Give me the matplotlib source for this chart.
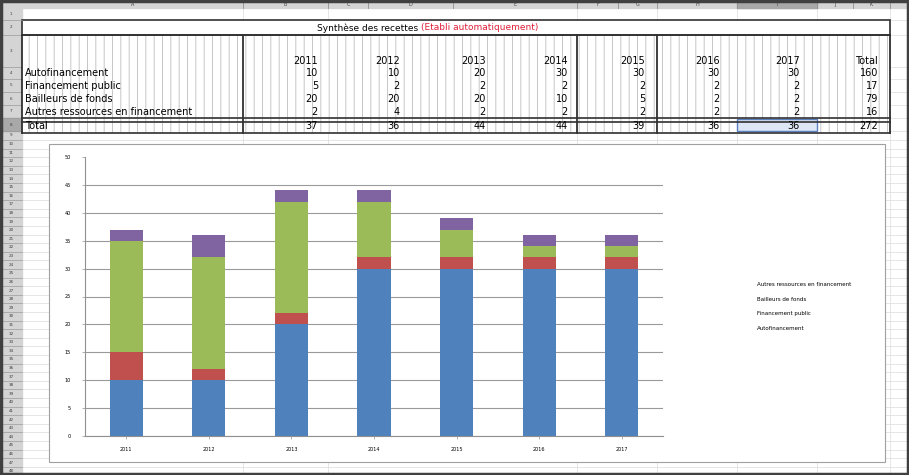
import matplotlib.pyplot as plt
from matplotlib.patches import Rectangle
import numpy as np

plt.rcParams['hatch.linewidth'] = 0.6

# donnees du tableau / graphique
annees = ['2011', '2012', '2013', '2014', '2015', '2016', '2017']
postes = ['Autofinancement', 'Financement public', 'Bailleurs de fonds',
          'Autres ressources en financement']
autofinancement = [10, 10, 20, 30, 30, 30, 30]
financement_public = [5, 2, 2, 2, 2, 2, 2]
bailleurs = [20, 20, 20, 10, 5, 2, 2]
autres = [2, 4, 2, 2, 2, 2, 2]
series = [autofinancement, financement_public, bailleurs, autres]
couleurs = ['#4F81BD', '#C0504D', '#9BBB59', '#8064A2']
y_ticks = [0, 5, 10, 15, 20, 25, 30, 35, 40, 45, 50]

W, H = 909, 475
fig = plt.figure(figsize=(W / 100, H / 100), dpi=100)

# calque en pixels pour la feuille excel
bg = fig.add_axes([0, 0, 1, 1])
bg.set_xlim(0, W)
bg.set_ylim(H, 0)
bg.axis('off')

# en-tetes de colonnes et de lignes
bg.add_patch(Rectangle((0, 0), W, 8, color='#d4d4d4'))
bg.add_patch(Rectangle((737, 0), 80, 8, color='#a8a8a8'))
bg.add_patch(Rectangle((0, 0), 22, H, color='#d4d4d4'))
col_bords = [22, 243, 328, 368, 453, 577, 618, 657, 737, 817, 853, 890]
lettres = 'ABCDEFGHIJK'
for i in range(len(col_bords) - 1):
    bg.plot([col_bords[i + 1]] * 2, [0, 8], color='#909090', lw=0.6)
    bg.text((col_bords[i] + col_bords[i + 1]) / 2, 4.5, lettres[i],
            fontsize=3.5, ha='center', va='center', color='#404040')

lignes = [8, 20, 35, 67, 79, 92, 105, 118, 131, 140]
while lignes[-1] < H:
    lignes.append(lignes[-1] + 8.6)
bg.add_patch(Rectangle((0, 118), 22, 13, color='#a8a8a8'))
for i in range(len(lignes) - 1):
    bg.plot([0, 22], [lignes[i + 1]] * 2, color='#9a9a9a', lw=0.5)
    bg.plot([22, W], [lignes[i + 1]] * 2, color='#dcdcdc', lw=0.5, zorder=0)
    bg.text(11, (lignes[i] + lignes[i + 1]) / 2, str(i + 1), fontsize=3,
            ha='center', va='center', color='#404040')
for x in [243, 328, 577, 657, 737, 817, 890]:
    bg.plot([x, x], [8, H], color='#dcdcdc', lw=0.5, zorder=0)

# zone du tableau avec motif
bg.add_patch(Rectangle((22, 35), 868, 98, facecolor='white',
                       edgecolor='#bdbdbd', hatch='||', lw=0))
bg.add_patch(Rectangle((737, 119), 80, 12, facecolor='#dce6f5',
                       edgecolor='#5b7fc0', lw=1))
# titre
bg.add_patch(Rectangle((22, 20), 868, 15, facecolor='white',
                       edgecolor='#303030', lw=1.2))
bg.text(421, 28, 'Synthèse des recettes ', fontsize=6.5, ha='right',
        va='center', color='black')
bg.text(421, 28, '(Etabli automatiquement)', fontsize=6.5, ha='left',
        va='center', color='#e0203a')

# traits epais du tableau
for x in [22, 243, 577, 657, 890]:
    bg.plot([x, x], [35, 133], color='#303030', lw=1.3)
for y in [35, 118, 121.5, 133]:
    bg.plot([22, 890], [y, y], color='#303030', lw=1.2)

x_vals = [318, 400, 486, 568, 645, 720, 800, 878]
y_rows = [73, 86, 99, 112, 126]
for j, a in enumerate(annees + ['Total']):
    bg.text(x_vals[j], 61, a, fontsize=7, ha='right', va='center')
totaux_annee = [sum(s[k] for s in series) for k in range(len(annees))]
for i, nom in enumerate(postes + ['Total']):
    bg.text(25, y_rows[i], nom, fontsize=7, ha='left', va='center')
    if i < len(series):
        vals = series[i] + [sum(series[i])]
    else:
        vals = totaux_annee + [sum(totaux_annee)]
    for j, v in enumerate(vals):
        bg.text(x_vals[j], y_rows[i], str(v), fontsize=7, ha='right',
                va='center')

# cadre du graphique
bg.add_patch(Rectangle((49, 144), 836, 318, facecolor='white',
                       edgecolor='#a0a0a0', lw=0.8, zorder=2))

# cadre exterieur
bg.add_patch(Rectangle((1, 1), W - 2, H - 2, fill=False,
                       edgecolor='#404040', lw=2.5, zorder=5))

# graphique empile
ax = fig.add_axes([85 / W, 1 - 436 / H, 578 / W, 279 / H])
ax.set_zorder(3)
x = np.arange(len(annees))
bas = np.zeros(len(annees))
barres = []
for s, c in zip(series, couleurs):
    b = ax.bar(x, s, width=0.4, bottom=bas, color=c, zorder=3)
    barres.append(b)
    bas += np.array(s)
ax.set_xlim(-0.5, len(annees) - 0.5)
ax.set_ylim(0, 50)
ax.set_yticks(y_ticks)
ax.set_yticklabels([str(v) for v in y_ticks], fontsize=3.5)
ax.set_xticks(x)
ax.set_xticklabels(annees, fontsize=3.5)
ax.tick_params(length=2, width=0.5, color='#909090', pad=8)
ax.tick_params(axis='x', pad=6)
ax.yaxis.grid(True, color='#9a9a9a', lw=0.8)
ax.get_ygridlines()[-1].set_visible(False)
ax.set_axisbelow(True)
for sp in ['top', 'right']:
    ax.spines[sp].set_visible(False)
for sp in ['left', 'bottom']:
    ax.spines[sp].set_color('#909090')
    ax.spines[sp].set_linewidth(0.8)

leg = ax.legend(barres[::-1], postes[::-1], fontsize=4, frameon=False,
                handlelength=0, handletextpad=0, labelspacing=1.75,
                loc='upper left', bbox_to_anchor=(752 / W, 1 - 277 / H),
                bbox_transform=fig.transFigure)
for h in leg.legend_handles:
    h.set_visible(False)

plt.savefig('out.png', dpi=100)
